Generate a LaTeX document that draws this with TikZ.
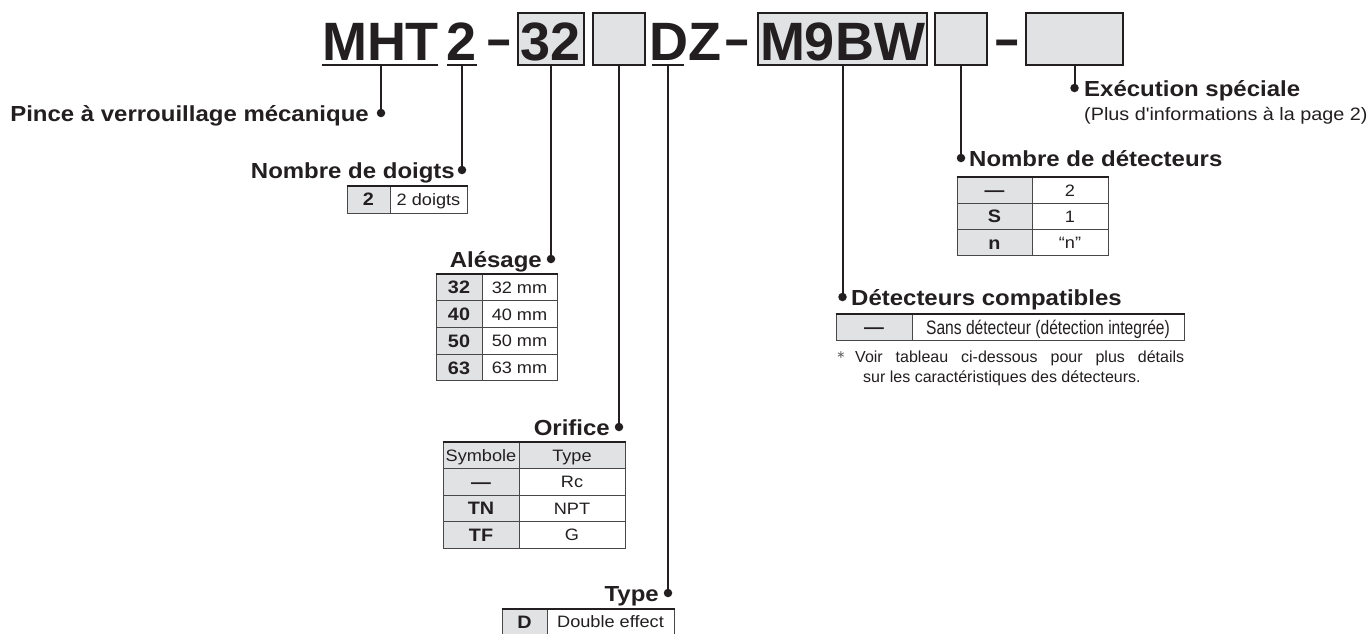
\documentclass[tikz,border=0pt]{standalone}
\usepackage{fontspec}
\setmainfont{Liberation Sans}
\newfontfamily\dejavu{DejaVu Sans}
\newfontfamily\widefont[FakeStretch=1.1]{Liberation Sans}
\newfontfamily\condfont[FakeStretch=0.8]{Liberation Sans}
\definecolor{ink}{HTML}{231F20}
\definecolor{boxgray}{HTML}{E1E2E4}
\definecolor{tabline}{HTML}{4A4748}
\newcommand\codefont{\fontsize{54}{60}\selectfont\bfseries}
\newcommand\lblfont{\widefont\bfseries\fontsize{21.8}{26}\selectfont}
\newcommand\cellfont{\widefont\fontsize{16.5}{19}\selectfont}
\newcommand\cellbf{\widefont\bfseries\fontsize{18}{20}\selectfont}
\newcommand\codedash{\scalebox{1.05}[1.45]{–}}
\begin{document}
\begin{tikzpicture}[x=1pt,y=-1pt,
  conn/.style={draw=ink, line width=2pt},
  dot/.style={circle, fill=ink, inner sep=0pt, minimum size=8.5pt},
  codebox/.style 2 args={draw=ink, fill=boxgray, line width=2pt, minimum width=#1, minimum height=#2, inner sep=0pt},
  code/.style={font=\codefont, text=ink, inner sep=0pt, anchor=base},
  dashtxt/.style={font=\fontsize{40}{40}\selectfont\bfseries, text=ink, inner sep=0pt, anchor=base},
  uline/.style={draw=ink, line width=2pt},
  lblR/.style={font=\lblfont, text=ink, inner sep=0pt, anchor=base east},
  lblL/.style={font=\lblfont, text=ink, inner sep=0pt, anchor=base west},
  cellg/.style 2 args={draw=tabline, fill=boxgray, line width=1pt, minimum width=#1, minimum height=#2, inner sep=0pt, text=ink, font=\cellbf, text height=12.9pt, text depth=0pt},
  cellw/.style 2 args={draw=tabline, fill=white, line width=1pt, minimum width=#1, minimum height=#2, inner sep=0pt, text=ink, font=\cellfont, text height=11.8pt, text depth=0pt},
  tabtop/.style={draw=ink, line width=2pt},
  note/.style={font=\fontsize{16}{20}\selectfont, text=ink, inner sep=0pt, anchor=base west}
]
\useasboundingbox[fill=white] (0,0) rectangle (1369,633);

% ---------- code row ----------
\node[code] (mht) at (380.5,60) {MHT};
\node[code] (two) at (462,60) {2};
\node[dashtxt] (d1) at (499,58) {\codedash};
\node[codebox={66}{52}] (b32) at (551,39) {};
\node[code] (t32) at (551,60) {32};
\node[codebox={52}{52}] (bE1) at (619,39) {};
\node[code, anchor=base west] (dz) at (649,60) {DZ};
\node[dashtxt] (d2) at (737,58) {\codedash};
\node[codebox={169}{52}] (bM9) at (842.5,39) {};
\node[code] (tM9) at (842.5,60) {M9BW};
\node[codebox={52}{52}] (bE2) at (961,39) {};
\node[dashtxt] (d3) at (1007.5,58) {\codedash};
\node[codebox={97}{52}] (bX) at (1074.5,39) {};

% underlines
\coordinate (uM1) at (322,65); \coordinate (uM2) at (438,65); \coordinate (uMc) at (381,65);
\coordinate (u21) at (447,65); \coordinate (u22) at (477,65); \coordinate (u2c) at (462,65);
\coordinate (uD1) at (652,65); \coordinate (uD2) at (684,65); \coordinate (uDc) at (668,65);
\draw[uline] (uM1) -- (uM2);
\draw[uline] (u21) -- (u22);
\draw[uline] (uD1) -- (uD2);

% ---------- dots ----------
\node[dot] (pPince) at (381,113) {};
\node[dot] (pDoigts) at (462,170) {};
\node[dot] (pAles) at (551,259) {};
\node[dot] (pOrif) at (619,427) {};
\node[dot] (pType) at (668,593) {};
\node[dot] (pCompat) at (842.5,297) {};
\node[dot] (pNbDet) at (961,158) {};
\node[dot] (pExec) at (1074.5,88) {};

% ---------- connectors ----------
\draw[conn] (uMc) -- (pPince.center);
\draw[conn] (u2c) -- (pDoigts.center);
\draw[conn] (b32.south) -- (pAles.center);
\draw[conn] (bE1.south) -- (pOrif.center);
\draw[conn] (uDc) -- (pType.center);
\draw[conn] (bM9.south) -- (pCompat.center);
\draw[conn] (bE2.south) -- (pNbDet.center);
\draw[conn] (bX.south) -- (pExec.center);

% ---------- labels ----------
\node[lblR] (lPince) at (369,121) {Pince à verrouillage mécanique};
\node[lblR] (lDoigts) at (455,178) {Nombre de doigts};
\node[lblR] (lAles) at (542,267) {Alésage};
\node[lblR] (lOrif) at (610,435) {Orifice};
\node[lblR] (lType) at (659,601) {Type};
\node[lblL] (lCompat) at (851,305) {Détecteurs compatibles};
\node[lblL] (lNbDet) at (969,166) {Nombre de détecteurs};
\node[lblL] (lExec) at (1084,96) {Exécution spéciale};
\node[font=\widefont\fontsize{18}{20}\selectfont, text=ink, inner sep=0pt, anchor=base west] (lExec2) at (1084,120) {(Plus d'informations à la page 2)};

% ---------- table: doigts ----------
\node[cellg={43}{27}] (t1a) at (368.5,199.5) {2};
\node[cellw={77}{27}] (t1b) at (428.5,199.5) {2 doigts};
\draw[tabtop] (t1a.north west) -- (t1b.north east);

% ---------- table: alesage ----------
\node[cellg={46}{26.75}] (t2a1) at (459,287.4) {32};
\node[cellw={75}{26.75}] (t2b1) at (519.5,287.4) {32 mm};
\node[cellg={46}{26.75}] (t2a2) at (459,314.1) {40};
\node[cellw={75}{26.75}] (t2b2) at (519.5,314.1) {40 mm};
\node[cellg={46}{26.75}] (t2a3) at (459,340.9) {50};
\node[cellw={75}{26.75}] (t2b3) at (519.5,340.9) {50 mm};
\node[cellg={46}{26.75}] (t2a4) at (459,367.6) {63};
\node[cellw={75}{26.75}] (t2b4) at (519.5,367.6) {63 mm};
\draw[tabtop] (t2a1.north west) -- (t2b1.north east);

% ---------- table: orifice ----------
\node[cellg={76}{26.5}, font=\cellfont, text height=11.8pt] (t3a0) at (481,455.25) {Symbole};
\node[cellg={106}{26.5}, font=\cellfont, text height=11.8pt] (t3b0) at (572,455.25) {Type};
\node[cellg={76}{26.5}] (t3a1) at (481,481.75) {—};
\node[cellw={106}{26.5}] (t3b1) at (572,481.75) {Rc};
\node[cellg={76}{26.5}] (t3a2) at (481,508.25) {TN};
\node[cellw={106}{26.5}] (t3b2) at (572,508.25) {NPT};
\node[cellg={76}{26.5}] (t3a3) at (481,534.75) {TF};
\node[cellw={106}{26.5}] (t3b3) at (572,534.75) {G};
\draw[tabtop] (t3a0.north west) -- (t3b0.north east);

% ---------- table: type ----------
\node[cellg={45}{26}] (t4a) at (524.5,622) {D};
\node[cellw={127}{26}] (t4b) at (610.5,622) {Double effect};
\draw[tabtop] (t4a.north west) -- (t4b.north east);

% ---------- table: nombre de detecteurs ----------
\node[cellg={75}{26.33}] (t5a1) at (994.5,190.2) {—};
\node[cellw={76}{26.33}] (t5b1) at (1070,190.2) {2};
\node[cellg={75}{26.33}] (t5a2) at (994.5,216.5) {S};
\node[cellw={76}{26.33}] (t5b2) at (1070,216.5) {1};
\node[cellg={75}{26.33}] (t5a3) at (994.5,242.8) {n};
\node[cellw={76}{26.33}] (t5b3) at (1070,242.8) {“n”};
\draw[tabtop] (t5a1.north west) -- (t5b1.north east);

% ---------- table: detecteurs compatibles ----------
\node[cellg={76}{26}] (t6a) at (874,327) {—};
\node[cellw={272}{26}, font=\condfont\fontsize{19.5}{22}\selectfont, text height=14pt] (t6b) at (1048,327) {Sans détecteur (détection integrée)};
\draw[tabtop] (t6a.north west) -- (t6b.north east);

% ---------- note ----------
\node[font=\dejavu\fontsize{11}{12}\selectfont, text=ink!70, inner sep=0pt] (nAst) at (841,355) {∗};
\node[note] (n1) at (855,362) {\makebox[329pt][s]{Voir tableau ci-dessous pour plus détails}};
\node[note] (n2) at (863,382) {sur les caractéristiques des détecteurs.};
\end{tikzpicture}
\end{document}
